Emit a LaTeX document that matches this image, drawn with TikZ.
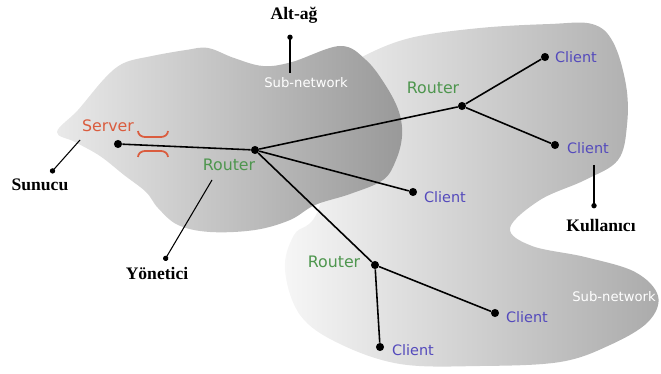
\documentclass[tikz,border=0pt]{standalone}
\usepackage{fontspec}
\setmainfont{Liberation Serif}
\setsansfont{DejaVu Sans}
\usetikzlibrary{arrows.meta}
\definecolor{srvred}{RGB}{218,92,62}
\definecolor{rtgreen}{RGB}{78,150,78}
\definecolor{clblue}{RGB}{84,74,188}
\tikzset{
  dot/.style={circle, fill=black, inner sep=0pt, minimum size=4.6pt},
  link/.style={line width=0.9pt},
  srvlbl/.style={text=srvred, font=\sffamily\fontsize{9}{10}\selectfont},
  rtlbl/.style={text=rtgreen, font=\sffamily\fontsize{9}{10}\selectfont},
  cllbl/.style={text=clblue, font=\sffamily\fontsize{8.2}{10}\selectfont},
  sublbl/.style={text=white, font=\sffamily\fontsize{7.5}{9}\selectfont},
  trlbl/.style={font=\bfseries\fontsize{10}{12}\selectfont},
  pin/.style={line width=0.6pt, -{Circle[length=3pt]}}
}
\begin{document}
\begin{tikzpicture}[x=0.02cm, y=-0.02cm]
	\useasboundingbox (0,0) rectangle (661,374);
	% right sub-network
	\path[left color=gray!7, middle color=gray!20, right color=gray!66]
		plot[smooth cycle, tension=0.6] coordinates {
		(345,72) (362,57) (410,38) (480,28) (550,24) (592,24) (613,42) (626,85)
		(627,125) (618,160) (585,180) (540,200) (510,228) (532,246) (585,257)
		(635,272) (658,296) (648,322) (610,345) (560,362) (480,366) (400,364)
		(338,343) (300,315) (285,270) (294,235) (320,205)};
	% left sub-network
	\path[left color=gray!17, right color=gray!80]
		plot[smooth cycle, tension=0.6] coordinates {
		(57,132) (78,110) (105,78) (124,63) (152,56) (186,50) (208,48) (234,58)
		(263,66) (292,62) (340,46) (366,60) (386,86) (399,112) (402,136)
		(396,160) (383,180) (350,194) (315,205) (290,220) (255,230) (210,232)
		(178,225) (158,208) (146,192) (124,175) (100,156) (75,142)};

	% devices
	\node[dot] (srv) at (118,144) {};
	\node[dot] (rA) at (255,150) {};
	\node[dot] (rB) at (462,106) {};
	\node[dot] (rC) at (375,265) {};
	\node[dot] (cA) at (545,57) {};
	\node[dot] (cB) at (555,145) {};
	\node[dot] (cC) at (413,192) {};
	\node[dot] (cD) at (495,313) {};
	\node[dot] (cE) at (380,347) {};

	\path (srv) edge[link] (rA)
		(rA) edge[link] (rB)
		(rA) edge[link] (cC)
		(rA) edge[link] (rC)
		(rB) edge[link] (cA)
		(rB) edge[link] (cB)
		(rC) edge[link] (cD)
		(rC) edge[link] (cE);

	% labels
	\node[srvlbl] (srvT) at (108,126) {Server};
	\node[rtlbl] (rAT) at (229,165) {Router};
	\node[rtlbl] (rBT) at (433,88) {Router};
	\node[rtlbl] (rCT) at (334,262) {Router};
	\node[cllbl] (cAT) at (576,57) {Client};
	\node[cllbl] (cBT) at (588,148) {Client};
	\node[cllbl] (cCT) at (445,197) {Client};
	\node[cllbl] (cDT) at (527,317) {Client};
	\node[cllbl] (cET) at (413,350) {Client};
	\node[sublbl] (subA) at (306,83) {Sub-network};
	\node[sublbl] (subB) at (614,297) {Sub-network};

	% red brackets
	\draw[srvred, line width=1pt] (138,131) to[out=-90, in=180] (145,137) -- (161,137) to[out=0, in=-90] (168,131);
	\draw[srvred, line width=1pt] (138,157) to[out=90, in=180] (145,151) -- (161,151) to[out=0, in=90] (168,157);

	% turkish names
	\node[trlbl] (alt) at (294,15) {Alt-ağ};
	\node[trlbl] (sun) at (40,185) {Sunucu};
	\node[trlbl] (yon) at (157,273) {Yönetici};
	\node[trlbl] (kul) at (601,226) {Kullanıcı};

	\coordinate (pAlt) at (290,73);
	\coordinate (pSun) at (80,140);
	\coordinate (pYon) at (212,180);
	\coordinate (pKul) at (594,165);
	\draw[pin] (pAlt) -- ([yshift=-3pt]pAlt |- alt.south);
	\draw[pin] (pSun) -- (sun);
	\draw[pin] (pYon) -- (yon);
	\draw[pin] (pKul) -- ([yshift=3pt]pKul |- kul.north);
\end{tikzpicture}
\end{document}
